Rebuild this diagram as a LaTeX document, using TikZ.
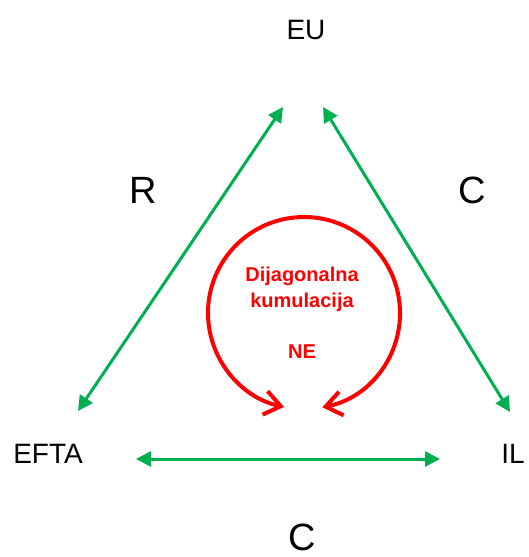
\documentclass[tikz,border=0pt]{standalone}
\usepackage{fontspec}
\setmainfont{Liberation Sans}
\usetikzlibrary{arrows.meta,positioning}
\definecolor{okgreen}{RGB}{0,176,80}
\definecolor{okred}{RGB}{255,0,0}

\begin{document}
\begin{tikzpicture}[x=1pt, y=-1pt,
    party/.style={anchor=base, font=\fontsize{28}{30}\selectfont},
    rulelbl/.style={anchor=base, font=\fontsize{38}{40}\selectfont},
    note/.style={anchor=base, text=okred, font=\fontsize{20}{22}\selectfont\bfseries},
    link/.style={draw=okgreen, line width=3pt,
        {Triangle[length=15pt,width=15pt]}-{Triangle[length=15pt,width=15pt]}},
    diag/.style={draw=okred, line width=4pt,
        {Straight Barb[length=16pt,width=24pt]}-{Straight Barb[length=16pt,width=24pt]}}
]
    \useasboundingbox (0,0) rectangle (528,557);

    \node[party] (eu) at (306,39) {EU};
    \node[party] (efta) at (48,463) {EFTA};
    \node[party] (il) at (513,463) {IL};

    \node[rulelbl] (r) at (143,203) {R};
    \node[rulelbl] (cr) at (472,203) {C};
    \node[rulelbl] (cb) at (302,550) {C};

    \node[note] (dij) at (302,281) {Dijagonalna};
    \node[note] (kum) at (302,307) {kumulacija};
    \node[note] (ne) at (302,358) {NE};

    % arrow ends
    \coordinate (eu-l) at (283,107);
    \coordinate (eu-r) at (323,107);
    \coordinate (efta-t) at (78,411);
    \coordinate (efta-r) at (136,459);
    \coordinate (il-t) at (510,412);
    \coordinate (il-l) at (440,459);
    \coordinate (mid) at (304,313);

    \draw[link] (efta-t) -- (eu-l);
    \draw[link] (eu-r) -- (il-t);
    \draw[link] (efta-r) -- (il-l);

    \draw[diag] (mid) ++(79:96) arc[start angle=79, end angle=-258, radius=96];
\end{tikzpicture}
\end{document}
